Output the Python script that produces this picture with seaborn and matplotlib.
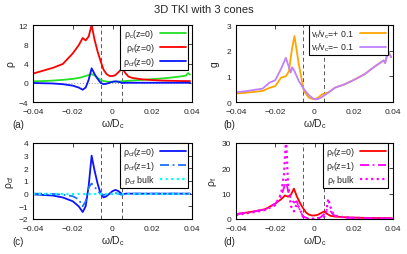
import numpy as np
import pandas as pd
import matplotlib
matplotlib.use("Agg")
import matplotlib.pyplot as plt
import seaborn as sns

# ---- data ----
# panel (a) / (c) / (d) common energy grid
x_w = [-0.04, -0.035, -0.03, -0.025, -0.02, -0.017, -0.015, -0.0135, -0.012, -0.0105,
       -0.009, -0.0075, -0.006, -0.0045, -0.003, -0.0015, 0.0, 0.0015, 0.003, 0.0049,
       0.0065, 0.008, 0.01, 0.015, 0.02, 0.025, 0.03, 0.035, 0.037, 0.038, 0.039]
rho_c = [0.3, 0.35, 0.45, 0.6, 0.8, 1.0, 1.2, 1.4, 1.6, 1.8,
         1.5, 1.0, 0.6, 0.35, 0.25, 0.2, 0.2, 0.22, 0.25, 0.3,
         0.35, 0.4, 0.45, 0.6, 0.75, 0.9, 1.1, 1.35, 1.5, 2.0, 1.7]
rho_f = [1.9, 2.5, 3.1, 3.9, 6.1, 7.8, 9.3, 8.8, 9.6, 12.0,
         8.9, 6.5, 4.5, 2.7, 1.8, 1.4, 1.4, 1.6, 2.2, 3.0,
         2.0, 1.3, 1.0, 0.7, 0.55, 0.45, 0.4, 0.35, 0.35, 0.35, 0.35]
rho_cf0 = [-0.05, -0.1, -0.15, -0.3, -0.6, -1.0, -1.45, -1.0, 0.6, 3.0,
           1.8, 0.8, 0.0, -0.3, -0.2, 0.0, 0.2, 0.3, 0.2, -0.05,
           0.0, 0.0, 0.0, 0.0, 0.0, 0.0, 0.0, 0.0, 0.0, 0.0, 0.0]
rho_cf1 = [0.0, 0.0, -0.02, -0.08, -0.2, -0.45, -1.0, -0.6, 0.5, 0.8,
           0.55, 0.2, 0.0, -0.1, -0.05, 0.0, 0.05, 0.05, 0.0, -0.1,
           0.0, 0.0, 0.0, 0.0, 0.0, 0.0, 0.0, 0.0, 0.0, 0.0, 0.0]
rho_cf_bulk = [0.0] * len(x_w)

# panel (b)
x_g = [-0.04, -0.035, -0.03, -0.0265, -0.025, -0.023, -0.02, -0.017, -0.0146, -0.013,
       -0.0121, -0.0114, -0.0102, -0.008, -0.0054, -0.0029, -0.001, 0.0005, 0.002, 0.0039,
       0.0073, 0.0105, 0.015, 0.019, 0.0255, 0.031, 0.0353, 0.036, 0.0375, 0.039]
g_plus = [0.33, 0.36, 0.4, 0.43, 0.48, 0.55, 0.62, 0.95, 1.0, 1.2,
          1.73, 2.1, 2.57, 1.47, 0.43, 0.17, 0.12, 0.12, 0.18, 0.3,
          0.38, 0.56, 0.68, 0.82, 1.08, 1.4, 1.62, 1.52, 1.98, 1.75]
g_minus = [0.38, 0.42, 0.48, 0.52, 0.62, 0.75, 0.85, 1.3, 1.72, 1.35,
           1.15, 1.35, 1.2, 0.82, 0.5, 0.27, 0.15, 0.1, 0.12, 0.2,
           0.38, 0.56, 0.68, 0.82, 1.08, 1.4, 1.62, 1.52, 1.98, 1.75]

# panel (d) f-electron curves
x_f = [-0.04, -0.035, -0.03, -0.025, -0.02, -0.017, -0.0155, -0.0145, -0.0135, -0.012,
       -0.0105, -0.009, -0.0075, -0.006, -0.0045, -0.003, 0.0, 0.003, 0.005, 0.006,
       0.007, 0.008, 0.0095, 0.011, 0.015, 0.02, 0.03, 0.04]
rho_f1 = [1.9, 2.5, 3.1, 3.9, 6.0, 9.0, 12.5, 15.5, 11.0, 8.0,
          6.5, 7.0, 3.5, 1.2, 0.5, 0.3, 0.2, 0.6, 2.0, 3.5,
          4.0, 3.2, 1.8, 1.0, 0.6, 0.4, 0.25, 0.2]
rho_f_bulk = [1.5, 2.2, 2.8, 3.6, 5.5, 10.0, 18.0, 32.0, 14.0, 5.0,
              3.0, 6.0, 4.0, 1.0, 0.1, 0.0, 0.0, 0.2, 1.0, 3.0,
              8.0, 5.0, 2.0, 1.2, 0.7, 0.5, 0.3, 0.2]

v_lines = [-0.006, 0.005]
x_ticks = [-0.04, -0.02, 0.0, 0.02, 0.04]
x_ticklabels = ["\u22120.04", "\u22120.02", "0", "0.02", "0.04"]

# ---- style ----
sns.set_style("white")
plt.rcParams["font.family"] = ["Liberation Sans", "DejaVu Sans"]
plt.rcParams["mathtext.fontset"] = "custom"
plt.rcParams["mathtext.rm"] = "Liberation Sans"
plt.rcParams["mathtext.it"] = "Liberation Sans:italic"
plt.rcParams["axes.unicode_minus"] = True

fig = plt.figure(figsize=(4.07, 2.55), dpi=100)
W, H = 407.0, 255.0

def make_ax(l, t, r, b):
    return fig.add_axes([l / W, 1 - b / H, (r - l) / W, (b - t) / H])

ax_a = make_ax(33, 26, 192, 103)
ax_b = make_ax(236, 26, 393, 103)
ax_c = make_ax(33, 144, 192, 220)
ax_d = make_ax(236, 144, 393, 220)

LW = 1.3

def line(ax, x, y, color, ls="-", label=None, lw=LW):
    df = pd.DataFrame({"x": x, "y": y})
    sns.lineplot(data=df, x="x", y="y", ax=ax, color=color, lw=lw,
                 linestyle=ls, label=label, sort=False, estimator=None)

def finish(ax, ylim, yticks, ylabel, tag, tag_dx, ylabelpad=2):
    ax.set_xlim(-0.04, 0.04)
    ax.set_ylim(*ylim)
    ax.set_xticks(x_ticks)
    ax.set_xticklabels(x_ticklabels)
    ax.set_yticks(yticks)
    ax.set_yticklabels([str(v).replace("-", "\u2212") for v in yticks])
    for v in v_lines:
        ax.axvline(v, color="#555555", lw=0.7, ls=(0, (4, 3)), zorder=1)
    ax.tick_params(direction="in", length=3, width=0.6, labelsize=6,
                   top=True, right=True)
    ax.tick_params(axis="x", pad=4)
    ax.tick_params(axis="y", pad=3.5)
    for s in ax.spines.values():
        s.set_linewidth(0.8)
        s.set_color("black")
    ax.set_xlabel("\u03c9/D$_\\mathrm{c}$", fontsize=7.5, labelpad=1.5)
    ax.set_ylabel(ylabel, fontsize=7.5, labelpad=ylabelpad)
    bb = ax.get_position()
    fig.text(bb.x0 - tag_dx / W, bb.y0 - 22 / H, tag, fontsize=7, ha="left", va="center")

def legend(ax, right_frac=0.975):
    leg = ax.legend(loc="upper right", bbox_to_anchor=(right_frac, 1.0),
                    borderaxespad=0, fontsize=6.3, markerfirst=False,
                    frameon=True, fancybox=False, framealpha=1,
                    edgecolor="black", handlelength=3.0, handletextpad=0.6,
                    labelspacing=0.1, borderpad=0.25)
    leg.get_frame().set_linewidth(0.8)
    for t in leg.get_texts():
        t.set_ha("right")

# (a)
ax_a.axhline(0, color="#999999", lw=0.7, ls=(0, (1, 2)), zorder=1)
line(ax_a, x_w, rho_c, "#22e022", label="\u03c1$_\\mathrm{c}$(z=0)")
line(ax_a, x_w, rho_f, "#ff0000", label="\u03c1$_\\mathrm{f}$(z=0)")
line(ax_a, x_w, rho_cf0, "#0a14ff", label="\u03c1$_\\mathrm{cf}$(z=0)")
finish(ax_a, (-4, 12), [-4, 0, 4, 8, 12], "\u03c1", "(a)", 21)
legend(ax_a)

# (b)
line(ax_b, x_g, g_plus, "#ffa500", label="v$_\\mathrm{f}$/v$_\\mathrm{c}$=+ 0.1")
line(ax_b, x_g, g_minus, "#c080ff", label="v$_\\mathrm{f}$/v$_\\mathrm{c}$=\u2212 0.1")
finish(ax_b, (0, 3), [0, 1, 2, 3], "g", "(b)", 13, ylabelpad=5)
legend(ax_b, right_frac=(388 - 236) / (393 - 236))

# (c)
line(ax_c, x_w, rho_cf0, "#0a14ff", label="\u03c1$_\\mathrm{cf}$(z=0)")
line(ax_c, x_w, rho_cf1, "#2070ff", ls=(0, (5, 2, 1, 2)), label="\u03c1$_\\mathrm{cf}$(z=1)")
line(ax_c, x_w, rho_cf_bulk, "#00ffff", ls=(0, (1, 1.5)), label="\u03c1$_\\mathrm{cf}$ bulk", lw=1.6)
finish(ax_c, (-2, 4), [-2, -1, 0, 1, 2, 3, 4], "\u03c1$_\\mathrm{cf}$", "(c)", 21)
legend(ax_c)

# (d)
line(ax_d, x_w, rho_f, "#ff0000", label="\u03c1$_\\mathrm{f}$(z=0)")
line(ax_d, x_f, rho_f1, "#ff00ff", ls=(0, (5, 2, 1, 2)), label="\u03c1$_\\mathrm{f}$(z=1)")
line(ax_d, x_f, rho_f_bulk, "#ff00ff", ls=(0, (1, 1.5)), label="\u03c1$_\\mathrm{f}$ bulk", lw=1.6)
finish(ax_d, (0, 30), [0, 10, 20, 30], "\u03c1$_\\mathrm{f}$", "(d)", 13)
legend(ax_d, right_frac=(388 - 236) / (393 - 236))

fig.text(0.5, 1 - 10 / H, "3D TKI with 3 cones", ha="center", va="center", fontsize=8)

fig.savefig("out.png", dpi=100)
